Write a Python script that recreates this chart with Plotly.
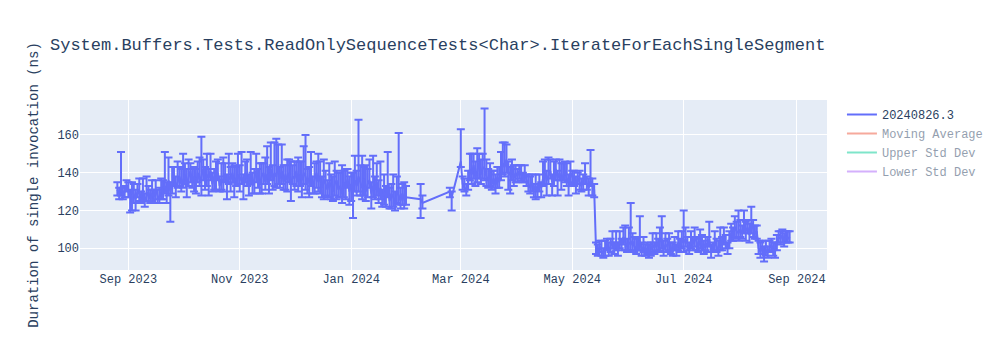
import plotly.graph_objects as go
import pandas as pd

FONT = "Liberation Mono, Courier New, monospace"

title_text = "System.Buffers.Tests.ReadOnlySequenceTests<Char>.IterateForEachSingleSegment"
y_title = "Duration of single invocation (ns)"
series_name = "20240826.3"

# ---- run dates (year-month, day numbers) ----
days_2023_08 = [26, 27, 28, 29, 30, 31]
days_2023_09 = [1, 2, 3, 4, 5, 6, 7, 8, 9, 10, 11, 12, 13, 14, 15, 16, 17, 18, 19, 20, 21, 22, 23, 24, 25, 26, 27, 28, 29, 30]
days_2023_10 = [1, 2, 3, 4, 5, 6, 7, 8, 9, 10, 11, 12, 13, 14, 15, 16, 17, 18, 19, 20, 21, 22, 23, 24, 25, 26, 27, 28, 29, 30, 31]
days_2023_11 = [1, 2, 3, 4, 5, 6, 7, 8, 9, 10, 11, 12, 13, 14, 15, 16, 17, 18, 19, 20, 21, 22, 23, 24, 25, 26, 27, 28, 29, 30]
days_2023_12 = [1, 2, 3, 4, 5, 6, 7, 8, 9, 10, 11, 12, 13, 14, 15, 16, 17, 18, 19, 20, 21, 22, 23, 24, 25, 26, 27, 28, 29, 30, 31]
days_2024_01 = [1, 2, 3, 4, 5, 6, 7, 8, 9, 10, 11, 12, 13, 14, 15, 16, 17, 18, 19, 20, 21, 22, 23, 24, 25, 26, 27, 28, 29, 30, 31]
days_2024_02 = [8, 9, 24, 25]
days_2024_03 = [1, 2, 3, 4, 5, 6, 7, 8, 9, 10, 11, 12, 13, 14, 15, 16, 17, 18, 19, 20, 21, 22, 23, 24, 25, 26, 27, 28, 29, 30, 31]
days_2024_04 = [1, 2, 3, 4, 5, 6, 7, 8, 9, 10, 11, 12, 13, 14, 15, 16, 17, 18, 19, 20, 21, 22, 23, 24, 25, 26, 27, 28, 29, 30]
days_2024_05 = [1, 2, 3, 4, 5, 6, 7, 8, 9, 10, 11, 12, 13, 14, 15, 16, 17, 18, 19, 20, 21, 22, 23, 24, 25, 26, 27, 28, 29, 30, 31]
days_2024_06 = [1, 2, 3, 4, 5, 6, 7, 8, 9, 10, 11, 12, 13, 14, 15, 16, 17, 18, 19, 20, 21, 22, 23, 24, 25, 26, 27, 28, 29, 30]
days_2024_07 = [1, 2, 3, 4, 5, 6, 7, 8, 9, 10, 11, 12, 13, 14, 15, 16, 17, 18, 19, 20, 21, 22, 23, 24, 25, 26, 27, 28, 29, 30, 31]
days_2024_08 = [1, 2, 3, 4, 5, 6, 7, 8, 9, 10, 11, 12, 13, 14, 15, 16, 17, 18, 19, 20, 21, 22, 23, 24, 25, 26, 27, 28]

# ---- mean duration (ns) ----
mean_2023_08 = [131, 129, 132, 128, 130, 133]
mean_2023_09 = [130, 127, 131, 128, 126, 130, 129, 127, 131, 125, 128, 130, 126, 129, 127, 131, 128, 126, 130, 132, 133, 129, 136, 130, 134, 137, 133, 135, 138, 134]
mean_2023_10 = [136, 139, 134, 137, 141, 135, 138, 133, 140, 136, 138, 142, 135, 139, 137, 141, 134, 138, 136, 140, 133, 137, 135, 139, 134, 138, 136, 140, 135, 137, 139]
mean_2023_11 = [136, 138, 134, 140, 137, 135, 139, 133, 137, 141, 136, 134, 138, 140, 135, 139, 137, 142, 136, 140, 138, 143, 137, 141, 135, 139, 136, 140, 134, 138]
mean_2023_12 = [137, 141, 135, 139, 136, 140, 138, 134, 137, 139, 133, 136, 140, 135, 138, 132, 136, 134, 131, 135, 133, 130, 134, 136, 131, 133, 129, 135, 132, 137, 130]
mean_2024_01 = [134, 131, 136, 133, 138, 135, 132, 137, 130, 134, 136, 129, 133, 131, 135, 128, 132, 126, 130, 127, 133, 125, 129, 127, 124, 130, 128, 125, 129, 126, 127]
mean_2024_02 = [126, 124, 130, 127]
mean_2024_03 = [146, 134, 132, 131, 135, 142, 139, 144, 137, 141, 145, 139, 143, 142, 138, 136, 140, 134, 137, 133, 138, 135, 141, 145, 143, 147, 140, 139, 142, 137, 140]
mean_2024_04 = [138, 141, 139, 137, 140, 136, 134, 132, 135, 131, 133, 130, 134, 132, 137, 140, 136, 139, 141, 135, 138, 142, 137, 140, 136, 139, 141, 137, 135, 140]
mean_2024_05 = [138, 136, 134, 137, 135, 133, 136, 138, 134, 132, 136, 133, 131, 100, 98, 101, 99, 97, 100, 102, 98, 101, 104, 100, 103, 99, 105, 102, 106, 103, 101]
mean_2024_06 = [103, 102, 104, 101, 100, 103, 104, 99, 101, 98, 100, 97, 99, 102, 100, 103, 101, 104, 105, 99, 102, 101, 103, 100, 98, 102, 99, 103, 101, 104]
mean_2024_07 = [103, 105, 102, 100, 104, 102, 106, 103, 101, 104, 102, 100, 103, 101, 105, 98, 100, 103, 101, 99, 104, 102, 106, 103, 100, 104, 108, 107, 111, 109, 108]
mean_2024_08 = [110, 108, 112, 109, 111, 107, 113, 110, 108, 109, 100, 98, 101, 97, 99, 98, 100, 102, 99, 98, 103, 106, 105, 107, 104, 106, 105, 106]

# ---- error above mean (ns) ----
up_2023_08 = [4, 3, 19, 4, 3, 3]
up_2023_09 = [5, 4, 4, 6, 5, 4, 8, 3, 6, 4, 10, 3, 5, 7, 4, 5, 3, 6, 7, 4, 18, 6, 12, 5, 9, 6, 5, 11, 5, 8]
up_2023_10 = [14, 6, 8, 10, 4, 7, 5, 9, 6, 12, 21, 5, 8, 11, 5, 9, 6, 4, 10, 7, 5, 8, 13, 6, 5, 12, 7, 5, 9, 6, 11]
up_2023_11 = [8, 13, 5, 6, 10, 4, 12, 7, 5, 9, 6, 11, 7, 5, 13, 15, 6, 14, 8, 16, 20, 12, 6, 14, 9, 5, 11, 7, 12, 6]
up_2023_12 = [9, 5, 13, 7, 10, 14, 22, 8, 6, 12, 5, 9, 6, 15, 8, 6, 11, 7, 5, 10, 6, 8, 12, 5, 9, 7, 15, 6, 10, 5, 8]
up_2024_01 = [6, 9, 13, 8, 30, 9, 17, 6, 14, 8, 11, 6, 16, 7, 10, 8, 14, 5, 9, 6, 18, 7, 5, 12, 6, 8, 33, 7, 5, 9, 6]
up_2024_02 = [8, 4, 2, 3]
up_2024_03 = [17, 4, 5, 3, 6, 8, 11, 6, 9, 12, 5, 8, 7, 32, 9, 6, 5, 7, 4, 6, 5, 8, 10, 11, 13, 8, 6, 4, 5, 7, 4]
up_2024_04 = [4, 3, 5, 3, 4, 3, 5, 6, 4, 3, 6, 4, 5, 3, 9, 7, 5, 9, 6, 4, 8, 5, 4, 7, 9, 6, 5, 8, 4, 6]
up_2024_05 = [3, 5, 4, 3, 6, 4, 3, 7, 4, 5, 16, 4, 3, 3, 4, 3, 5, 3, 4, 3, 5, 4, 5, 3, 6, 4, 4, 3, 5, 9, 4]
up_2024_06 = [8, 22, 4, 5, 5, 3, 13, 4, 5, 4, 3, 5, 4, 6, 3, 5, 4, 7, 12, 5, 6, 4, 5, 3, 5, 4, 3, 6, 4, 5]
up_2024_07 = [17, 6, 4, 3, 5, 4, 5, 3, 4, 6, 5, 4, 3, 5, 9, 4, 3, 6, 4, 5, 7, 4, 5, 4, 3, 5, 5, 4, 6, 5, 12]
up_2024_08 = [5, 4, 8, 5, 4, 6, 9, 5, 4, 3, 4, 5, 3, 4, 5, 3, 4, 3, 4, 5, 4, 3, 4, 3, 4, 3, 4, 3]

# ---- error below mean (ns) ----
dn_2023_08 = [3, 3, 4, 2, 3, 3]
dn_2023_09 = [3, 8, 11, 4, 6, 3, 4, 3, 5, 3, 3, 5, 2, 4, 3, 5, 4, 2, 4, 6, 4, 5, 8, 16, 5, 4, 6, 3, 5, 4]
dn_2023_10 = [4, 5, 7, 4, 6, 3, 8, 4, 5, 3, 10, 6, 4, 6, 9, 5, 4, 7, 5, 4, 3, 6, 5, 4, 8, 4, 6, 5, 8, 4, 5]
dn_2023_11 = [6, 4, 8, 5, 4, 7, 5, 4, 8, 6, 4, 5, 9, 6, 4, 5, 8, 6, 5, 7, 6, 9, 5, 7, 4, 8, 6, 5, 9, 4]
dn_2023_12 = [6, 8, 5, 6, 9, 6, 7, 5, 10, 6, 4, 7, 8, 5, 9, 5, 10, 6, 4, 8, 7, 5, 6, 10, 4, 6, 5, 8, 6, 5, 7]
dn_2024_01 = [9, 15, 6, 5, 8, 7, 6, 9, 5, 7, 4, 8, 6, 5, 7, 4, 6, 4, 7, 5, 6, 4, 8, 5, 4, 6, 5, 4, 6, 5, 4]
dn_2024_02 = [10, 3, 3, 7]
dn_2024_03 = [3, 3, 2, 3, 4, 6, 5, 7, 4, 6, 8, 5, 6, 6, 5, 4, 7, 3, 5, 4, 6, 3, 5, 6, 5, 7, 9, 10, 6, 4, 5]
dn_2024_04 = [3, 4, 3, 2, 5, 3, 4, 3, 5, 4, 7, 3, 4, 5, 4, 6, 8, 5, 4, 7, 5, 6, 9, 4, 5, 3, 6, 4, 7, 5]
dn_2024_05 = [4, 3, 5, 3, 4, 3, 5, 4, 3, 4, 3, 5, 4, 3, 2, 3, 3, 2, 4, 3, 2, 3, 4, 3, 4, 3, 5, 3, 4, 4, 3]
dn_2024_06 = [4, 4, 5, 3, 3, 4, 5, 3, 3, 2, 3, 2, 3, 4, 3, 4, 3, 5, 5, 3, 4, 3, 4, 3, 2, 3, 3, 4, 3, 4]
dn_2024_07 = [5, 4, 3, 3, 4, 3, 5, 4, 3, 4, 3, 3, 4, 3, 4, 3, 2, 4, 3, 3, 5, 3, 4, 3, 3, 4, 4, 3, 5, 4, 4]
dn_2024_08 = [4, 3, 4, 5, 3, 4, 5, 4, 3, 4, 3, 3, 4, 4, 3, 3, 2, 3, 3, 3, 4, 3, 3, 4, 3, 3, 2, 3]

months = [
    ("2023-08", days_2023_08, mean_2023_08, up_2023_08, dn_2023_08),
    ("2023-09", days_2023_09, mean_2023_09, up_2023_09, dn_2023_09),
    ("2023-10", days_2023_10, mean_2023_10, up_2023_10, dn_2023_10),
    ("2023-11", days_2023_11, mean_2023_11, up_2023_11, dn_2023_11),
    ("2023-12", days_2023_12, mean_2023_12, up_2023_12, dn_2023_12),
    ("2024-01", days_2024_01, mean_2024_01, up_2024_01, dn_2024_01),
    ("2024-02", days_2024_02, mean_2024_02, up_2024_02, dn_2024_02),
    ("2024-03", days_2024_03, mean_2024_03, up_2024_03, dn_2024_03),
    ("2024-04", days_2024_04, mean_2024_04, up_2024_04, dn_2024_04),
    ("2024-05", days_2024_05, mean_2024_05, up_2024_05, dn_2024_05),
    ("2024-06", days_2024_06, mean_2024_06, up_2024_06, dn_2024_06),
    ("2024-07", days_2024_07, mean_2024_07, up_2024_07, dn_2024_07),
    ("2024-08", days_2024_08, mean_2024_08, up_2024_08, dn_2024_08),
]

dates, means, ups, dns = [], [], [], []
for ym, d, m, u, l in months:
    assert len(d) == len(m) == len(u) == len(l), ym
    dates += [f"{ym}-{x:02d}" for x in d]
    means += m
    ups += u
    dns += l

s = pd.Series(means, dtype=float)
mov_avg = s.rolling(7, min_periods=1).mean()
mov_std = s.rolling(7, min_periods=1).std().fillna(0)

fig = go.Figure()
fig.add_trace(go.Scatter(
    x=dates, y=means, mode="lines", name=series_name,
    line=dict(color="#636efa", width=2),
    error_y=dict(type="data", symmetric=False, array=ups, arrayminus=dns,
                 color="#636efa", thickness=2, width=4),
))
fig.add_trace(go.Scatter(x=dates, y=mov_avg, mode="lines", name="Moving Average",
                         line=dict(color="#EF553B"), visible="legendonly"))
fig.add_trace(go.Scatter(x=dates, y=mov_avg + mov_std, mode="lines", name="Upper Std Dev",
                         line=dict(color="#00cc96"), visible="legendonly"))
fig.add_trace(go.Scatter(x=dates, y=mov_avg - mov_std, mode="lines", name="Lower Std Dev",
                         line=dict(color="#ab63fa"), visible="legendonly"))

fig.update_layout(
    width=1000, height=350,
    template="plotly",
    font=dict(family=FONT),
    title=dict(text=title_text),
    yaxis=dict(title=dict(text=y_title)),
    xaxis=dict(type="date"),
)

fig.write_html("out.html")
